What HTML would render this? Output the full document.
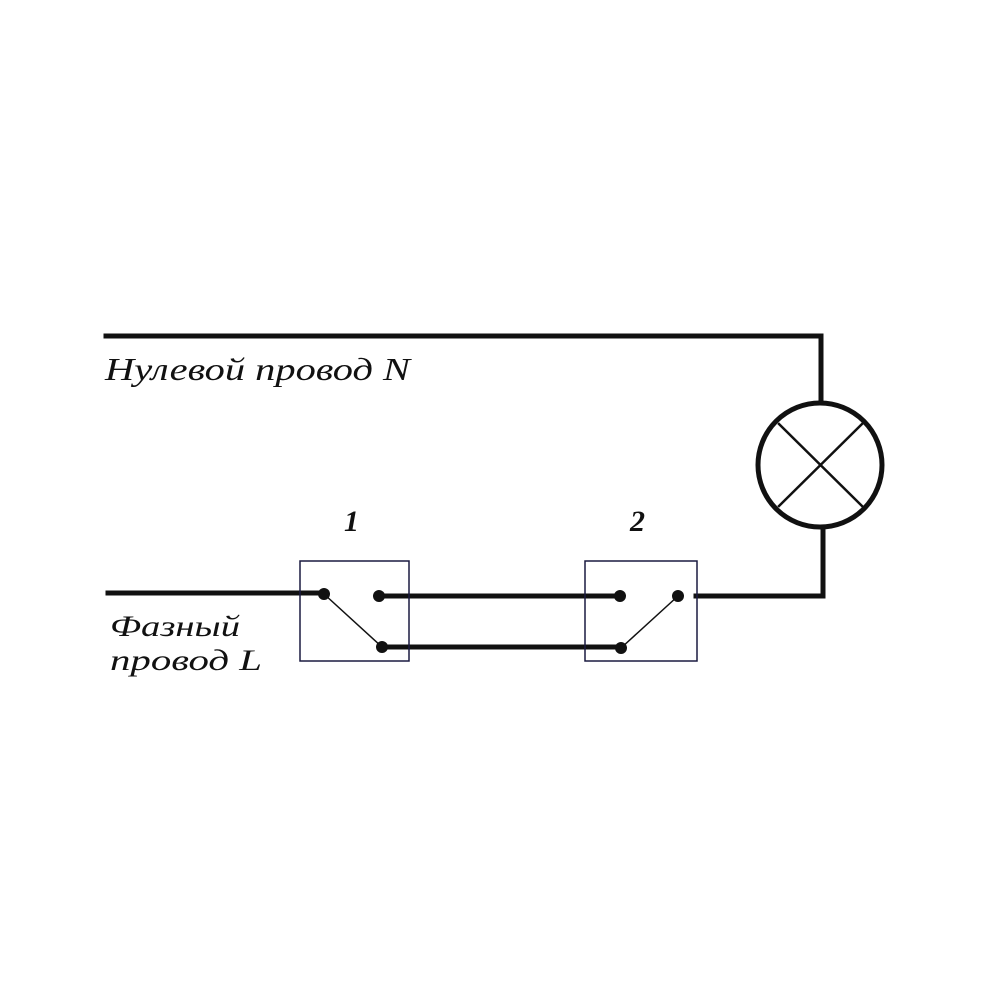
<!DOCTYPE html>
<html><head><meta charset="utf-8"><style>
html,body{margin:0;padding:0;background:#fff;}
svg{display:block}
text{font-family:"Liberation Serif","Noto Serif CJK SC",serif;font-style:italic;fill:#111}
</style></head><body>
<svg width="1000" height="1000" viewBox="0 0 1000 1000">
<g stroke="#111" fill="none" stroke-linecap="square">
<polyline points="106,336 821,336 821,403" stroke-width="5"/>
<polyline points="823,528 823,596 696,596" stroke-width="5"/>
<line x1="108" y1="593" x2="324" y2="593" stroke-width="5"/>
<line x1="379" y1="596" x2="620" y2="596" stroke-width="5"/>
<line x1="382" y1="647" x2="621" y2="647" stroke-width="5"/>
<ellipse cx="820" cy="465" rx="62" ry="62" stroke-width="5"/>
<line x1="779" y1="424" x2="862" y2="506" stroke-width="2.5"/>
<line x1="779" y1="506" x2="862" y2="424" stroke-width="2.5"/>
<rect x="300" y="561" width="109" height="100" stroke="#1a1a40" stroke-width="1.5"/>
<rect x="585" y="561" width="112" height="100" stroke="#1a1a40" stroke-width="1.5"/>
<line x1="324" y1="594" x2="382" y2="647" stroke-width="1.5"/>
<line x1="621" y1="648" x2="678" y2="596" stroke-width="1.5"/>
</g>
<g fill="#111">
<circle cx="324" cy="594" r="6"/><circle cx="379" cy="596" r="6"/><circle cx="382" cy="647" r="6"/>
<circle cx="620" cy="596" r="6"/><circle cx="621" cy="648" r="6"/><circle cx="678" cy="596" r="6"/>
</g>
<text x="105" y="380" font-size="32" textLength="305" lengthAdjust="spacingAndGlyphs">Нулевой провод  N</text>
<text x="110" y="636" font-size="30" textLength="130" lengthAdjust="spacingAndGlyphs">Фазный</text>
<text x="110" y="670" font-size="30" textLength="152" lengthAdjust="spacingAndGlyphs">провод  L</text>
<text x="344" y="531" font-size="30" font-weight="bold">1</text>
<text x="630" y="531" font-size="30" font-weight="bold">2</text>
</svg>
</body></html>
